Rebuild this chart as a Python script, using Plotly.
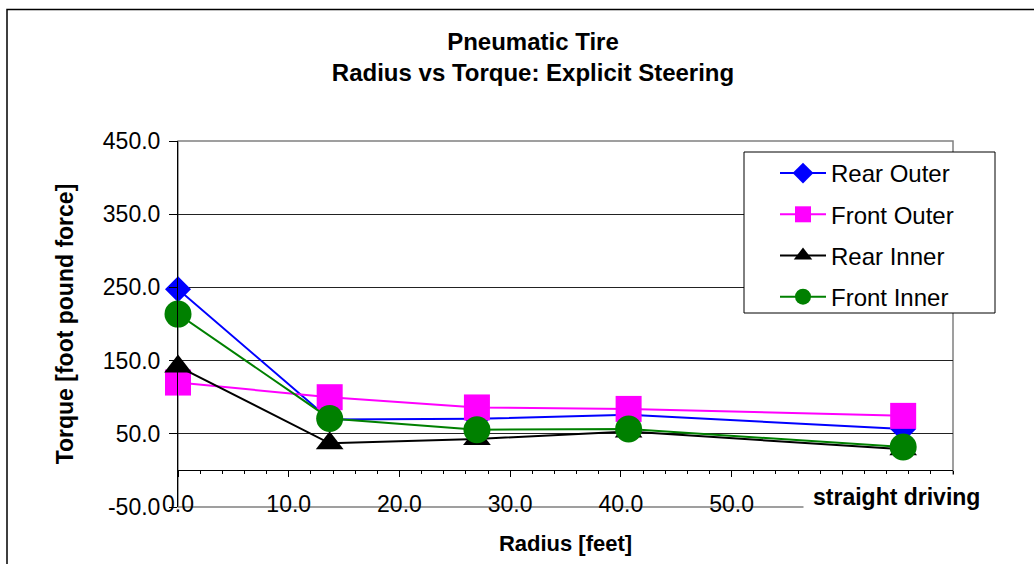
import plotly.graph_objects as go

# ---- data ----
RADIUS = [0.0, 13.7, 27.0, 40.7, 65.5]
REAR_OUTER = [247.5, 69.5, 70.5, 76.0, 56.5]
FRONT_OUTER = [120.0, 100.0, 86.0, 84.0, 74.5]
REAR_INNER = [142.0, 37.0, 43.0, 53.0, 29.0]
FRONT_INNER = [213.5, 71.0, 55.5, 56.5, 32.0]

SERIES_NAMES = ["Rear Outer", "Front Outer", "Rear Inner", "Front Inner"]
X_TICK_VALUES = [0, 10, 20, 30, 40, 50, 60, 70]
X_TICK_LABELS = ["0.0", "10.0", "20.0", "30.0", "40.0", "50.0", "", ""]
Y_TICK_VALUES = [-50, 50, 150, 250, 350, 450]
Y_TICK_LABELS = ["-50.0", "50.0", "150.0", "250.0", "350.0", "450.0"]
STRAIGHT_LABEL = "straight driving"

FONT = "Liberation Sans, Arial, sans-serif"

styles = [
    dict(color="#0000FF", symbol="diamond", size=20),
    dict(color="#FF00FF", symbol="square", size=26),
    dict(color="#000000", symbol="triangle-up", size=24),
    dict(color="#008000", symbol="circle", size=27),
]
values = [REAR_OUTER, FRONT_OUTER, REAR_INNER, FRONT_INNER]

fig = go.Figure()
for i, (name, ys, st) in enumerate(zip(SERIES_NAMES, values, styles)):
    fig.add_trace(go.Scatter(
        x=RADIUS, y=ys, name=name, mode="lines+markers",
        legendgroup=f"g{i}",
        line=dict(color=st["color"], width=2),
        marker=dict(color=st["color"], symbol=st["symbol"], size=st["size"],
                    line=dict(width=0)),
        cliponaxis=False,
    ))

L, R, T, B = 178, 81, 141, 57
W, H = 1034, 564
pw, ph = W - L - R, H - T - B


def px_x(px):
    return (px - L) / pw


def px_y(py):
    return (H - B - py) / ph


fig.update_layout(
    width=W, height=H,
    margin=dict(l=L, r=R, t=T, b=B, autoexpand=False),
    paper_bgcolor="white", plot_bgcolor="white",
    font=dict(family=FONT, color="black"),
    title=dict(
        text="Pneumatic Tire<br>Radius vs Torque: Explicit Steering",
        x=533 / W, xanchor="center", xref="container",
        y=1 - 50 / H, yanchor="top", yref="container",
        font=dict(size=24, weight="bold", family=FONT, color="black"),
    ),
    xaxis=dict(
        range=[0, 70], anchor="free", position=0.1,
        showline=True, linecolor="black", linewidth=1,
        ticks="outside", ticklen=6, tickcolor="black", tickwidth=1,
        tickvals=X_TICK_VALUES, ticktext=X_TICK_LABELS,
        ticklabelstandoff=7,
        minor=dict(dtick=2, ticks="outside", ticklen=3, tickcolor="black", showgrid=False),
        showgrid=False, zeroline=False,
        tickfont=dict(size=23, family=FONT, color="black"),
        title=dict(text="Radius [feet]", font=dict(size=22, weight="bold", family=FONT),
                   standoff=19),
    ),
    yaxis=dict(
        range=[-50, 450], tickvals=Y_TICK_VALUES, ticktext=Y_TICK_LABELS,
        showline=True, linecolor="black", linewidth=1,
        ticks="outside", ticklen=8, tickcolor="black",
        ticklabelstandoff=4,
        showgrid=True, gridcolor="#222222", gridwidth=1, zeroline=False,
        tickfont=dict(size=23, family=FONT, color="black"),
        title=dict(text="Torque [foot pound force]", font=dict(size=23, weight="bold", family=FONT),
                   standoff=22),
    ),
    legend=dict(
        x=px_x(775), y=px_y(151), xanchor="left", yanchor="top",
        bgcolor="rgba(0,0,0,0)", borderwidth=0,
        font=dict(size=24, family=FONT, color="black"),
        traceorder="grouped", tracegroupgap=7, itemwidth=46,
    ),
    shapes=[
        # plot-area border (gray)
        dict(type="rect", xref="paper", yref="paper", x0=0, x1=1, y0=0, y1=1,
             line=dict(color="#808080", width=1.5), layer="between"),
        # legend box
        dict(type="rect", xref="paper", yref="paper",
             x0=px_x(744), x1=px_x(995), y0=px_y(313), y1=px_y(152),
             line=dict(color="black", width=1), fillcolor="white", layer="above"),
        # outer chart-area border
        dict(type="rect", xref="paper", yref="paper",
             x0=px_x(7), x1=px_x(W + 20),
             y0=px_y(H + 20), y1=px_y(9.5),
             line=dict(color="black", width=1.5), layer="above"),
    ],
    annotations=[
        dict(text=STRAIGHT_LABEL, xref="x", yref="paper",
             x=RADIUS[-1], xshift=-7, y=px_y(497), yanchor="middle",
             showarrow=False, bgcolor="white", borderpad=9,
             font=dict(size=23, weight="bold", family=FONT, color="black")),
    ],
)

fig.write_html("out.html")
